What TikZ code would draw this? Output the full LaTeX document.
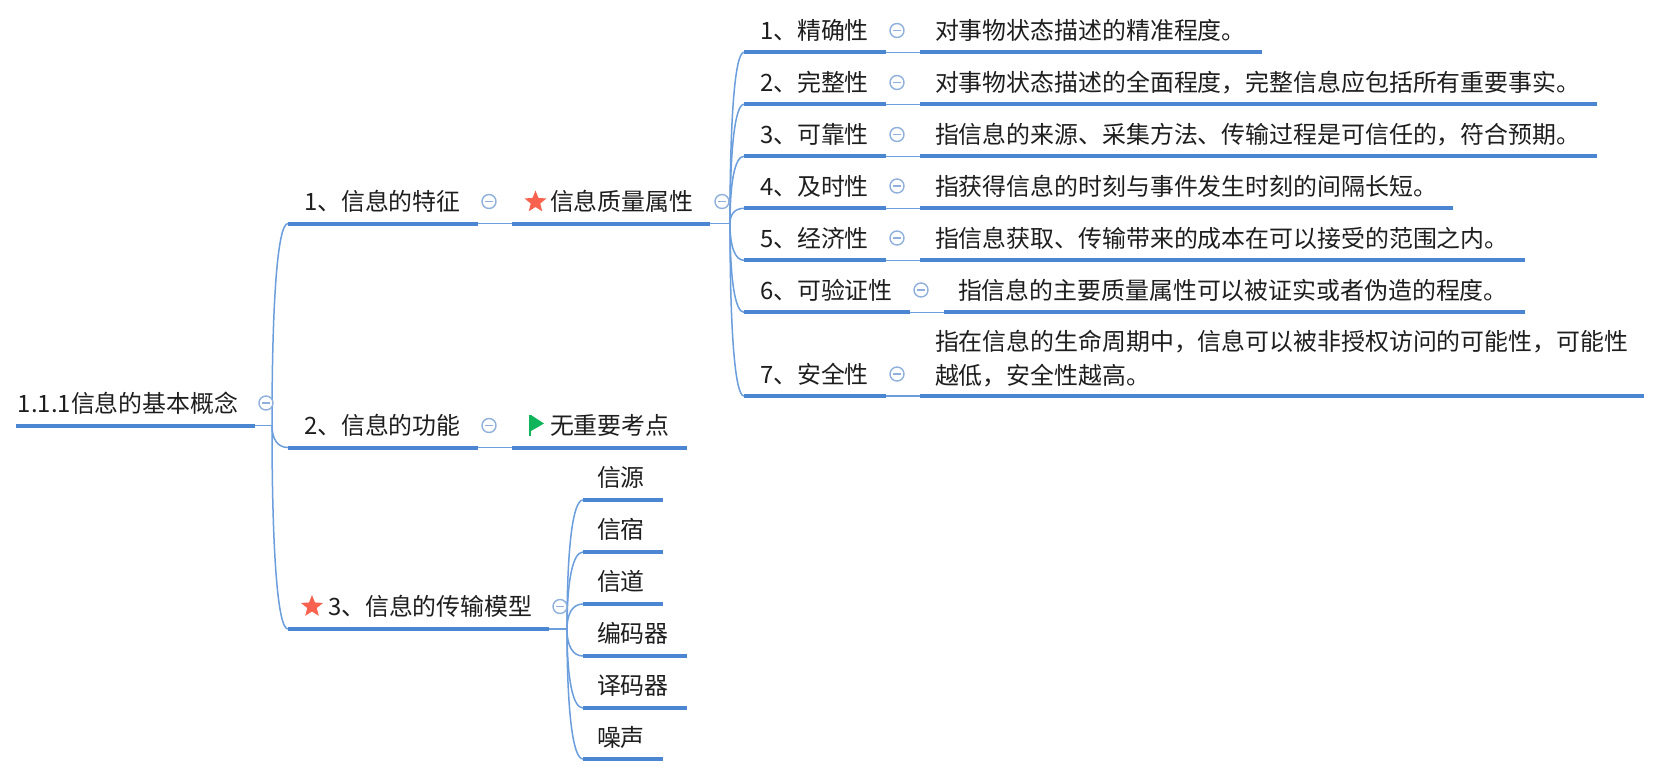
\documentclass[tikz,border=0pt]{standalone}
\usepackage{fontspec}
\setmainfont{Noto Sans CJK SC}
\usetikzlibrary{calc,shapes.geometric}
\definecolor{heavyblue}{HTML}{4A86D2}
\definecolor{thinblue}{HTML}{6A9EDC}
\definecolor{ringblue}{HTML}{8FB0DC}
\definecolor{inkdark}{HTML}{1E1E1E}
\definecolor{starred}{HTML}{F8624F}
\definecolor{flaggreen}{HTML}{10B45A}
\tikzset{
  underbar/.style={draw=heavyblue,line width=2pt},
  thinlink/.style={draw=thinblue,line width=0.75pt},
  topictext/.style={anchor=west,inner sep=0pt,outer sep=0pt,text=inkdark,font=\fontsize{11.95}{17.5}\selectfont,text height=11.2pt,text depth=2.2pt},
  ring/.style={circle,draw=ringblue,line width=0.7pt,fill=white,minimum size=7pt,inner sep=0pt},
  starmark/.style={star,star points=5,star point ratio=2.3,fill=#1,draw=none,minimum size=11.5pt,inner sep=0pt},
}
\newcommand{\topicat}[7]{% name, x1, x2, yline, xtext, ytext, text
  \coordinate (#1-l) at (#2,#4);
  \coordinate (#1-r) at (#3,#4);
  \draw[underbar] (#1-l) -- (#1-r);
  \node[topictext] (#1) at (#5,#6) {#7};
}
\newcommand{\ringat}[3]{%
  \node[ring] (#1) at (#2,#3) {};
  \draw[draw=ringblue,line width=0.7pt] ($(#1.center)+(-3.6,0)$) -- ($(#1.center)+(3.6,0)$);
}
\newcommand{\branch}[2]{%
  \draw[thinlink] (#1) .. controls ($(#1)!0.62!(#1 |- #2-l)$) and ($(#1 |- #2-l)!0.35!(#2-l)$) .. (#2-l);
}
\begin{document}
\begin{tikzpicture}[x=0.5pt,y=-0.5pt]
\useasboundingbox (0,0) rectangle (1655,772);
\fill[white] (0,0) rectangle (1655,772);

\coordinate (rootfork) at (272,425.5);
\coordinate (qualfork) at (730,223.5);
\coordinate (modelfork) at (567,629);

% root and first level
\topicat{root}{16}{255}{425.5}{18}{403}{1.1.1信息的基本概念}
\topicat{feat}{288}{478}{223.5}{304}{201.5}{1、信息的特征}
\topicat{func}{288}{478}{447.5}{304}{425.5}{2、信息的功能}
\topicat{model}{288}{549}{629}{328}{606.5}{3、信息的传输模型}
% second level
\topicat{qual}{512}{710}{223.5}{550}{201.5}{信息质量属性}
\topicat{none}{512}{687}{447.5}{550}{425.5}{无重要考点}
% quality attributes
\topicat{a}{744}{886}{52.3}{760}{30.5}{1、精确性}
\topicat{b}{744}{886}{104.3}{760}{82.5}{2、完整性}
\topicat{c}{744}{886}{156.3}{760}{134.5}{3、可靠性}
\topicat{d}{744}{886}{208.3}{760}{186}{4、及时性}
\topicat{e}{744}{886}{260.3}{760}{238}{5、经济性}
\topicat{f}{744}{910}{312.3}{760}{290}{6、可验证性}
\topicat{g}{744}{886}{396}{760}{374}{7、安全性}
% descriptions
\topicat{ad}{920}{1262}{52.3}{935}{30.5}{对事物状态描述的精准程度。}
\topicat{bd}{920}{1597}{104.3}{935}{82.5}{对事物状态描述的全面程度，完整信息应包括所有重要事实。}
\topicat{cd}{920}{1597}{156.3}{935}{134.5}{指信息的来源、采集方法、传输过程是可信任的，符合预期。}
\topicat{dd}{920}{1453}{208.3}{935}{186}{指获得信息的时刻与事件发生时刻的间隔长短。}
\topicat{ed}{920}{1525}{260.3}{935}{238}{指信息获取、传输带来的成本在可以接受的范围之内。}
\topicat{fd}{944}{1525}{312.3}{958}{290}{指信息的主要质量属性可以被证实或者伪造的程度。}
\topicat{gd}{920}{1644}{396}{935}{341}{指在信息的生命周期中，信息可以被非授权访问的可能性，可能性}
\node[topictext] (gdb) at (935,375) {越低，安全性越高。};
% model children
\topicat{m}{583}{663}{500}{597}{477}{信源}
\topicat{n}{583}{663}{552}{597}{529}{信宿}
\topicat{o}{583}{663}{604}{597}{581}{信道}
\topicat{p}{583}{687}{656}{597}{633}{编码器}
\topicat{q}{583}{687}{708}{597}{685}{译码器}
\topicat{s}{583}{663}{759}{597}{737}{噪声}

% connectors
\draw[thinlink] (root-r) -- (rootfork);
\branch{rootfork}{feat}
\branch{rootfork}{func}
\branch{rootfork}{model}
\draw[thinlink] (feat-r) -- (qual-l);
\draw[thinlink] (func-r) -- (none-l);
\draw[thinlink] (qual-r) -- (qualfork);
\foreach \k in {a,b,c,d,e,f,g}{\branch{qualfork}{\k}}
\draw[thinlink] (a-r) -- (ad-l);
\draw[thinlink] (b-r) -- (bd-l);
\draw[thinlink] (c-r) -- (cd-l);
\draw[thinlink] (d-r) -- (dd-l);
\draw[thinlink] (e-r) -- (ed-l);
\draw[thinlink] (f-r) -- (fd-l);
\draw[thinlink] (g-r) -- (gd-l);
\draw[thinlink] (model-r) -- (modelfork);
\foreach \k in {m,n,o,p,q,s}{\branch{modelfork}{\k}}

% collapse rings
\ringat{r0}{266}{403}
\ringat{r1}{489}{201.5}
\ringat{r2}{722}{201.5}
\ringat{r3}{489}{425.5}
\ringat{r4}{560}{606.5}
\ringat{r5}{897}{30.5}
\ringat{r6}{897}{82.5}
\ringat{r7}{897}{134.5}
\ringat{r8}{897}{186}
\ringat{r9}{897}{238}
\ringat{r10}{921}{290}
\ringat{r11}{897}{374}

% markers
\node[starmark=starred] (st1) at (535.5,202) {};
\node[starmark=starred] (st2) at (312,606.5) {};
\fill[flaggreen] (529,415) rectangle (531.4,436);
\fill[flaggreen] (531,415) -- (544,423.5) -- (531,431) -- cycle;
\end{tikzpicture}
\end{document}
